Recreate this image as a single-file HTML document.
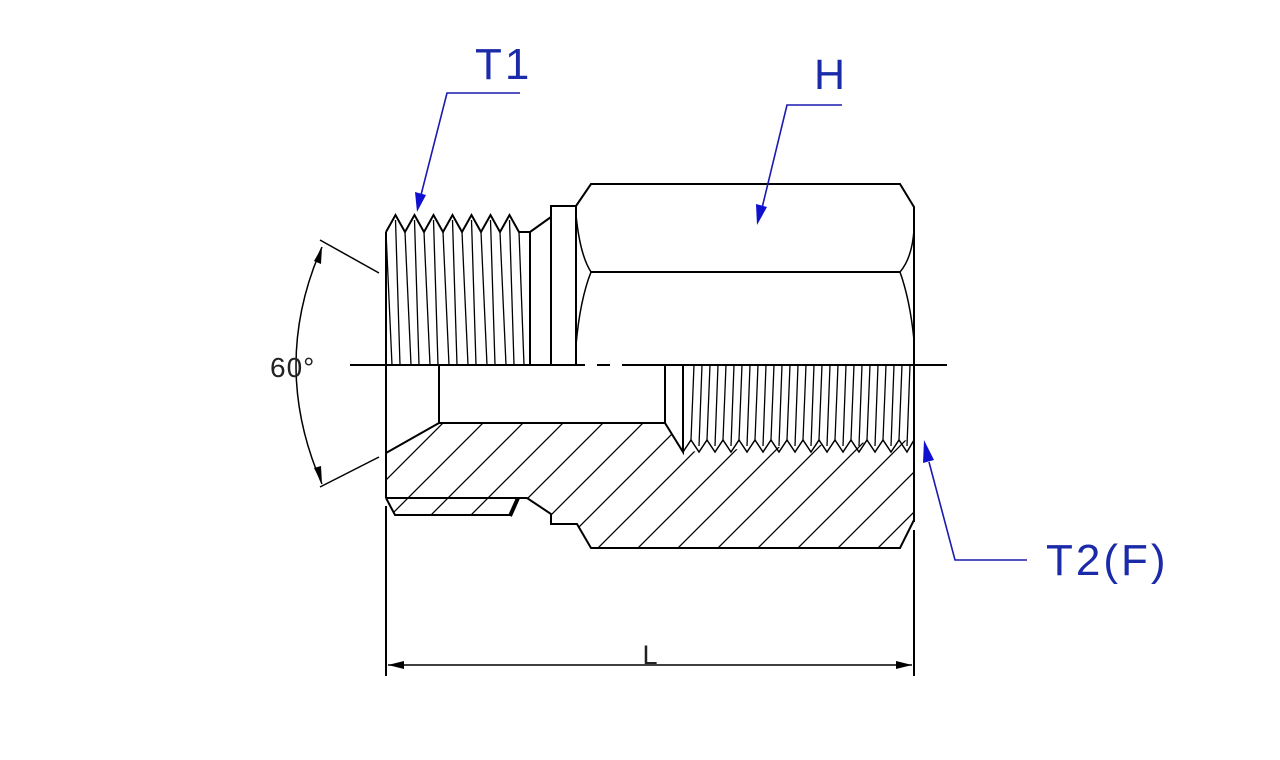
<!DOCTYPE html>
<html><head><meta charset="utf-8"><style>html,body{margin:0;padding:0;background:#fff}svg{display:block}</style></head>
<body>
<svg width="1280" height="760" viewBox="0 0 1280 760" xmlns="http://www.w3.org/2000/svg">
<defs>
<pattern id="h" width="40" height="40" patternUnits="userSpaceOnUse" patternTransform="translate(26,0)">
<path d="M-10,10 L10,-10 M0,40 L40,0 M30,50 L50,30" stroke="#000" stroke-width="1.3"/>
</pattern>
</defs>
<g fill="none" stroke="#000" stroke-width="2">
<path fill="url(#h)" stroke="none" d="M386,453 L439,423 L665,423 L683,452 L914,440 L914,520 L900,548 L591,548 L577,524 L551,524 L551,514 L527,498 L518,498 L510,515 L395,515 L386,498 Z"/>
<path d="M386,232 L395.5,215 L405,232 L414.5,215 L424,232 L433.5,215 L443,232 L452.5,215 L462,232 L471.5,215 L481,232 L490.5,215 L500,232 L509.5,215 L519,232 L530,232"/>
<g stroke-width="1.3">
<line x1="386" y1="232" x2="392" y2="365"/><line x1="395.5" y1="220" x2="400" y2="365"/><line x1="405" y1="232" x2="411" y2="365"/><line x1="414.5" y1="220" x2="419" y2="365"/><line x1="424" y1="232" x2="430" y2="365"/><line x1="433.5" y1="220" x2="438" y2="365"/><line x1="443" y1="232" x2="449" y2="365"/><line x1="452.5" y1="220" x2="457" y2="365"/><line x1="462" y1="232" x2="468" y2="365"/><line x1="471.5" y1="220" x2="476" y2="365"/><line x1="481" y1="232" x2="487" y2="365"/><line x1="490.5" y1="220" x2="495" y2="365"/><line x1="500" y1="232" x2="506" y2="365"/><line x1="509.5" y1="220" x2="514" y2="365"/><line x1="519" y1="232" x2="524" y2="365"/>
</g>
<line x1="386" y1="232" x2="386" y2="498"/>
<line x1="530" y1="232" x2="530" y2="365"/>
<line x1="530" y1="232" x2="551" y2="217"/>
<path d="M551,365 L551,206 L576,206 L576,365"/>
<path d="M576,206 L591,184 L900,184 L914,207 L914,522"/>
<line x1="591" y1="272" x2="900" y2="272"/>
<path d="M576,215 Q580,255 591,272 Q580,300 576,345" stroke-width="1.5"/>
<path d="M914,230 Q912,258 900,272 Q910,300 914,340" stroke-width="1.5"/>
<path d="M350,365 L585,365 M597,365 L610,365 M622,365 L947,365"/>
<line x1="439" y1="365" x2="439" y2="423"/>
<line x1="665" y1="365" x2="665" y2="423"/>
<path d="M386,453 L439,423 L665,423 L683,452 L683,365"/>
<path d="M683,452 L691,440 L699,452 L707,440 L715,452 L723,440 L731,452 L739,440 L747,452 L755,440 L763,452 L771,440 L779,452 L787,440 L795,452 L803,440 L811,452 L819,440 L827,452 L835,440 L843,452 L851,440 L859,452 L867,440 L875,452 L883,440 L891,452 L899,440 L907,452 L914,440" stroke-width="1.5"/>
<g stroke-width="1.3">
<line x1="691" y1="440" x2="694" y2="365"/><line x1="699" y1="446" x2="702" y2="365"/><line x1="707" y1="440" x2="710" y2="365"/><line x1="715" y1="446" x2="718" y2="365"/><line x1="723" y1="440" x2="726" y2="365"/><line x1="731" y1="446" x2="734" y2="365"/><line x1="739" y1="440" x2="742" y2="365"/><line x1="747" y1="446" x2="750" y2="365"/><line x1="755" y1="440" x2="758" y2="365"/><line x1="763" y1="446" x2="766" y2="365"/><line x1="771" y1="440" x2="774" y2="365"/><line x1="779" y1="446" x2="782" y2="365"/><line x1="787" y1="440" x2="790" y2="365"/><line x1="795" y1="446" x2="798" y2="365"/><line x1="803" y1="440" x2="806" y2="365"/><line x1="811" y1="446" x2="814" y2="365"/><line x1="819" y1="440" x2="822" y2="365"/><line x1="827" y1="446" x2="830" y2="365"/><line x1="835" y1="440" x2="838" y2="365"/><line x1="843" y1="446" x2="846" y2="365"/><line x1="851" y1="440" x2="854" y2="365"/><line x1="859" y1="446" x2="862" y2="365"/><line x1="867" y1="440" x2="870" y2="365"/><line x1="875" y1="446" x2="878" y2="365"/><line x1="883" y1="440" x2="886" y2="365"/><line x1="891" y1="446" x2="894" y2="365"/><line x1="899" y1="440" x2="902" y2="365"/><line x1="907" y1="446" x2="910" y2="365"/>
</g>
<path d="M914,520 L900,548 L591,548 L577,524 L551,524 L551,514 L527,498 L386,498"/>
<path d="M386,498 L395,515 L510,515"/>
<line x1="510" y1="516" x2="518" y2="498" stroke-width="4"/>
<line x1="386" y1="506" x2="386" y2="676"/>
<line x1="914" y1="530" x2="914" y2="676"/>
<line x1="388" y1="665" x2="912" y2="665" stroke-width="1.5"/>
<line x1="320" y1="240" x2="379" y2="273" stroke-width="1.5"/>
<line x1="320" y1="487" x2="379" y2="457" stroke-width="1.5"/>
<path d="M322,247 Q270,365 322,484" stroke-width="1.5"/>
</g>
<g fill="#000">
<path d="M388,665 L404,661 L404,669 Z"/>
<path d="M912,665 L896,661 L896,669 Z"/>
<path d="M322,247 L321,264 L314,261 Z"/>
<path d="M322,484 L314,468 L321,466 Z"/>
</g>
<g font-family="Liberation Sans, sans-serif" fill="#222">
<text x="650" y="664" text-anchor="middle" font-size="27">L</text>
<text x="270" y="377" font-size="28" letter-spacing="1">60°</text>
</g>
<g stroke="#1a1ab0" stroke-width="1.6" fill="none">
<path d="M520,93 L447,93 L421,195"/>
<path d="M842,105 L787,105 L762,208"/>
<path d="M1027,560 L955,560 L929,462"/>
</g>
<g fill="#1010d0">
<path d="M417,212 L415,192 L426,195 Z"/>
<path d="M757,225 L756,204 L767,207 Z"/>
<path d="M924,440 L934,460 L923,463 Z"/>
</g>
<g font-family="Liberation Sans, sans-serif" fill="#1a2aa8" font-size="44">
<text x="475" y="79" letter-spacing="3">T1</text>
<text x="814" y="89" font-size="43">H</text>
<text x="1046" y="575" letter-spacing="3">T2(F)</text>
</g>
</svg>
</body></html>
